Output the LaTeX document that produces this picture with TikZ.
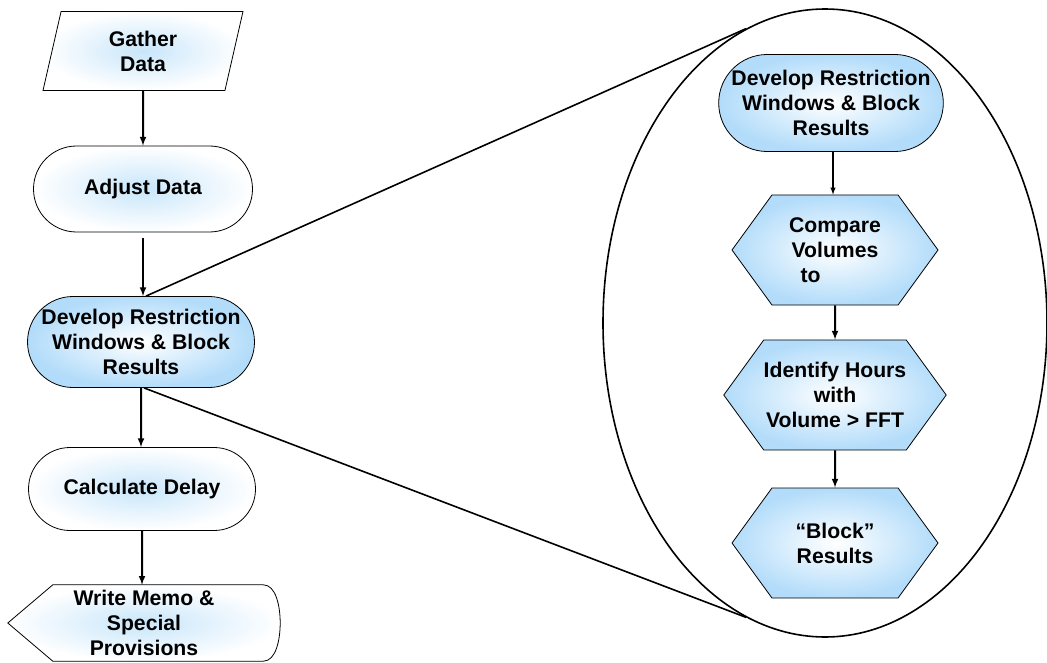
\documentclass[tikz,border=0pt]{standalone}
\usepackage{fontspec}
\setmainfont{Liberation Sans}
\usetikzlibrary{backgrounds,shapes.geometric,shapes.misc,shapes.symbols}
\definecolor{hiblue}{RGB}{178,220,250}
\definecolor{loblue}{RGB}{200,230,250}

\begin{document}
\begin{tikzpicture}[x=1pt, y=-1pt,
  every node/.style={align=center, inner sep=0pt, font=\fontsize{21.2}{25}\selectfont\bfseries},
  plain/.style={draw, line width=0.8pt, inner color=loblue, outer color=white},
  hilite/.style={draw, line width=0.8pt, inner color=white, outer color=hiblue},
  pill/.style={rounded rectangle},
  hexa/.style={signal, signal to=west and east, signal pointer angle=108, minimum width=206pt, minimum height=110pt},
  flow/.style={-latex, line width=2pt}]
\useasboundingbox (0,0) rectangle (1047,663);

\node[plain, trapezium, trapezium left angle=66, trapezium right angle=114, trapezium stretches body,
  minimum width=200pt, minimum height=79pt] (gather) at (143,51) {Gather\\Data};
\node[plain, pill, minimum width=219pt, minimum height=86pt] (adjust) at (143,189) {Adjust Data};
\node[hilite, pill, minimum width=225pt, minimum height=91pt] (devL) at (141,342) {Develop Restriction\\Windows \& Block\\Results};
\node[plain, pill, minimum width=227pt, minimum height=83pt] (calc) at (142,489) {Calculate Delay};
\node[minimum width=272pt, minimum height=76pt] (memo) at (144,623) {Write Memo \&\\Special\\Provisions};
\begin{scope}[on background layer]
  \shade[plain] ([xshift=45pt]memo.north west) -- ([xshift=-17pt]memo.north east)
    .. controls ([xshift=-4pt]memo.north east) and ([yshift=16pt]memo.east) .. (memo.east)
    .. controls ([yshift=-16pt]memo.east) and ([xshift=-4pt]memo.south east) .. ([xshift=-17pt]memo.south east)
    -- ([xshift=45pt]memo.south west) -- (memo.west) -- cycle;
\end{scope}

\draw[flow] (gather) -- (gather |- adjust.north);
\draw[flow] ([yshift=-6pt]adjust.south) -- (adjust |- devL.north);
\draw[flow] (devL) -- (devL |- calc.north);
\draw[flow] (calc) -- (calc |- memo.north);

\node[ellipse, draw, line width=1.6pt, minimum width=444pt, minimum height=628pt] (zoom) at (825,323) {};
\draw[line width=1.6pt] ([xshift=5pt]devL.north) -- (zoom.105);
\draw[line width=1.6pt] ([xshift=3pt]devL.south) -- (zoom.255);

\node[hilite, pill, minimum width=212pt, minimum height=97pt] (devR) at (831,103) {Develop Restriction\\Windows \& Block\\Results};
\node[hilite, hexa] (cmp) at (835,250) {Compare\\Volumes\\to\hspace*{2.3em}};
\node[hilite, hexa] (ident) at (835,395) {Identify Hours\\with\\Volume > FFT};
\node[hilite, hexa] (blk) at (835,543) {“Block”\\Results};

\draw[flow, line width=1.4pt] ([xshift=2pt]devR.south) -- ([xshift=2pt]devR.south |- cmp.north);
\draw[flow] (cmp) -- (ident);
\draw[flow] (ident) -- (blk);
\end{tikzpicture}
\end{document}
